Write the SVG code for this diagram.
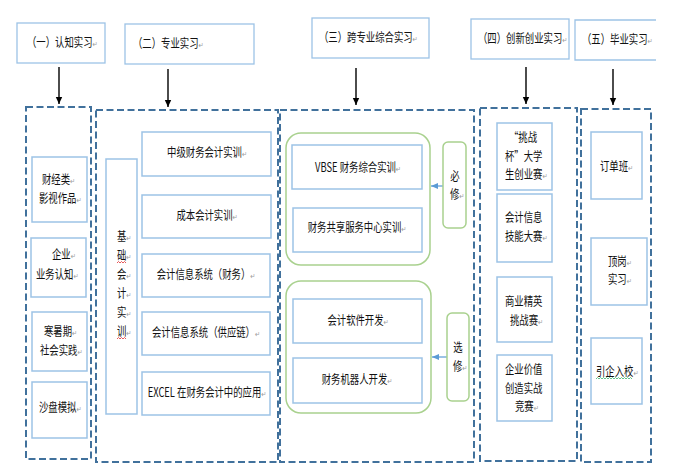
<svg xmlns="http://www.w3.org/2000/svg" width="685" height="475" viewBox="0 0 685 475">
<defs>
<marker id="ah" markerWidth="8" markerHeight="8" refX="7" refY="4" orient="auto" markerUnits="userSpaceOnUse"><path d="M0,0.8 L7,4 L0,7.2 Z" fill="#000"/></marker>
<marker id="ahb" markerWidth="8" markerHeight="8" refX="7" refY="4" orient="auto" markerUnits="userSpaceOnUse"><path d="M0,1 L7,4 L0,7 Z" fill="#5B9BD5"/></marker>
</defs>
<style>
.hd{fill:#fff;stroke:#9DC3E6;stroke-width:1.3}
.bx{fill:#fff;stroke:#9DC3E6;stroke-width:1.5}
.dc{fill:none;stroke:#41719C;stroke-width:2;stroke-dasharray:7 3.5}
.gr{fill:none;stroke:#A9D18E;stroke-width:1.5}
.ar{stroke:#000;stroke-width:1.4;fill:none}
.arb{stroke:#5B9BD5;stroke-width:1.2;fill:none}
text{font-family:"Noto Sans CJK SC","Liberation Sans",sans-serif;font-size:12.5px;fill:#111}
.m{text-anchor:middle}
.p{font-family:"DejaVu Sans",sans-serif;font-size:8px;fill:#999}
.sq{fill:none;stroke-width:0.8}
</style>

<g id="containers">
<rect class="dc" x="26" y="107" width="65" height="352"/>
<rect class="dc" x="96" y="110" width="182" height="352"/>
<rect class="dc" x="280" y="110" width="194" height="352"/>
<rect class="dc" x="480" y="108" width="97" height="353"/>
<rect class="dc" x="581" y="109" width="70" height="353"/>
</g>

<g id="connectors">
<line class="ar" x1="59" y1="67" x2="59" y2="104" marker-end="url(#ah)"/>
<line class="ar" x1="168" y1="69" x2="168" y2="107" marker-end="url(#ah)"/>
<line class="ar" x1="356" y1="68" x2="356" y2="105" marker-end="url(#ah)"/>
<line class="ar" x1="526" y1="67" x2="526" y2="104" marker-end="url(#ah)"/>
<line class="ar" x1="613" y1="69" x2="613" y2="105" marker-end="url(#ah)"/>
<line class="arb" x1="443" y1="186" x2="431" y2="186" marker-end="url(#ahb)"/>
<line class="arb" x1="447" y1="357" x2="432" y2="357" marker-end="url(#ahb)"/>
</g>

<g id="h1"><rect class="hd" x="17" y="23" width="88" height="40"/><text transform="translate(27,47) scale(0.75,1)">（一）认知实习<tspan class="p">↵</tspan></text></g>
<g id="h2"><rect class="hd" x="125" y="24" width="129" height="40"/><text transform="translate(133,48) scale(0.75,1)">（二）专业实习<tspan class="p">↵</tspan></text></g>
<g id="h3"><rect class="hd" x="312" y="18" width="117" height="40"/><text transform="translate(319,42) scale(0.75,1)">（三）跨专业综合实习<tspan class="p">↵</tspan></text></g>
<g id="h4"><rect class="hd" x="471" y="19" width="98" height="40"/><text transform="translate(478,43) scale(0.75,1)">（四）创新创业实习<tspan class="p">↵</tspan></text></g>
<g id="h5"><path class="hd" d="M656,20 H575 V60 H656"/><text transform="translate(582,44) scale(0.75,1)">（五）毕业实习<tspan class="p">↵</tspan></text></g>

<g id="c1a"><rect class="bx" x="32" y="157" width="55" height="65"/><text transform="translate(42,184) scale(0.75,1)">财经类<tspan class="p">↵</tspan></text><text transform="translate(39,203) scale(0.75,1)">影视作品<tspan class="p">↵</tspan></text></g>
<g id="c1b"><rect class="bx" x="31" y="238" width="55" height="59"/><text transform="translate(52,259) scale(0.75,1)">企业<tspan class="p">↵</tspan></text><text transform="translate(36,279) scale(0.75,1)">业务认知<tspan class="p">↵</tspan></text></g>
<g id="c1c"><rect class="bx" x="32" y="312" width="55" height="59"/><text transform="translate(44,336) scale(0.75,1)">寒暑期<tspan class="p">↵</tspan></text><text transform="translate(40,355) scale(0.75,1)">社会实践<tspan class="p">↵</tspan></text></g>
<g id="c1d"><rect class="bx" x="32" y="382" width="55" height="56"/><text transform="translate(39,412) scale(0.75,1)">沙盘模拟<tspan class="p">↵</tspan></text></g>

<g id="c2base"><rect class="bx" x="106" y="159" width="31" height="255"/>
<text transform="translate(117,241) scale(0.75,1)">基<tspan class="p">↵</tspan></text>
<text transform="translate(117,260) scale(0.75,1)">础<tspan class="p">↵</tspan></text>
<text transform="translate(117,279) scale(0.75,1)">会<tspan class="p">↵</tspan></text>
<text transform="translate(117,298) scale(0.75,1)">计<tspan class="p">↵</tspan></text>
<text transform="translate(117,317) scale(0.75,1)">实<tspan class="p">↵</tspan></text>
<text transform="translate(117,336) scale(0.75,1)">训<tspan class="p">↵</tspan></text>
<path class="sq" stroke="#E03030" d="M117,263 l1.5,-1.5 l1.5,1.5 l1.5,-1.5 l1.5,1.5 l1.5,-1.5 l1.5,1.5"/>
<path class="sq" stroke="#E03030" d="M117,339 l1.5,-1.5 l1.5,1.5 l1.5,-1.5 l1.5,1.5 l1.5,-1.5 l1.5,1.5"/>
</g>
<g id="c2a"><rect class="bx" x="142" y="132" width="129" height="44"/><text class="m" transform="translate(207,157) scale(0.75,1)">中级财务会计实训<tspan class="p">↵</tspan></text></g>
<g id="c2b"><rect class="bx" x="142" y="195" width="129" height="43"/><text class="m" transform="translate(207,220) scale(0.75,1)">成本会计实训<tspan class="p">↵</tspan></text></g>
<g id="c2c"><rect class="bx" x="142" y="254" width="128" height="43"/><text class="m" transform="translate(206,279) scale(0.75,1)">会计信息系统（财务）<tspan class="p">↵</tspan></text></g>
<g id="c2d"><rect class="bx" x="142" y="312" width="128" height="43"/><text class="m" transform="translate(206,337) scale(0.75,1)">会计信息系统（供应链）<tspan class="p">↵</tspan></text></g>
<g id="c2e"><rect class="bx" x="142" y="372" width="128" height="43"/><text class="m" transform="translate(207,397) scale(0.75,1)">EXCEL 在财务会计中的应用<tspan class="p">↵</tspan></text></g>

<g id="g3a"><rect class="gr" x="286" y="133" width="144" height="132" rx="15"/></g>
<g id="c3a"><rect class="bx" x="292" y="145" width="130" height="44"/><text class="m" transform="translate(358,172) scale(0.75,1)">VBSE 财务综合实训<tspan class="p">↵</tspan></text></g>
<g id="c3b"><rect class="bx" x="293" y="208" width="129" height="44"/><text class="m" transform="translate(357,232) scale(0.75,1)">财务共享服务中心实训<tspan class="p">↵</tspan></text></g>
<g id="c3req"><rect class="gr" x="443" y="142" width="23" height="86" rx="5"/><text class="m" transform="translate(455,181) scale(0.75,1)">必</text><text transform="translate(450,199) scale(0.75,1)">修<tspan class="p">↵</tspan></text></g>
<g id="g3b"><rect class="gr" x="286" y="281" width="145" height="132" rx="15"/></g>
<g id="c3c"><rect class="bx" x="293" y="299" width="129" height="44"/><text class="m" transform="translate(358,325) scale(0.75,1)">会计软件开发<tspan class="p">↵</tspan></text></g>
<g id="c3d"><rect class="bx" x="293" y="358" width="129" height="45"/><text class="m" transform="translate(357,384) scale(0.75,1)">财务机器人开发<tspan class="p">↵</tspan></text></g>
<g id="c3opt"><rect class="gr" x="447" y="313" width="22" height="88" rx="5"/><text class="m" transform="translate(458,352) scale(0.75,1)">选</text><text transform="translate(453,371) scale(0.75,1)">修<tspan class="p">↵</tspan></text></g>

<g id="c4a"><rect class="bx" x="497" y="123" width="55" height="67"/><text transform="translate(509,142) scale(0.75,1)">“挑战</text><text transform="translate(505,161) scale(0.75,1)">杯”大学</text><text transform="translate(505,179) scale(0.75,1)">生创业赛<tspan class="p">↵</tspan></text></g>
<g id="c4b"><rect class="bx" x="497" y="194" width="55" height="68"/><text transform="translate(505,222) scale(0.75,1)">会计信息</text><text transform="translate(505,241) scale(0.75,1)">技能大赛<tspan class="p">↵</tspan></text></g>
<g id="c4c"><rect class="bx" x="497" y="277" width="55" height="65"/><text transform="translate(505,306) scale(0.75,1)">商业精英</text><text transform="translate(510,325) scale(0.75,1)">挑战赛<tspan class="p">↵</tspan></text></g>
<g id="c4d"><rect class="bx" x="497" y="355" width="55" height="66"/><text transform="translate(505,374) scale(0.75,1)">企业价值</text><text transform="translate(505,393) scale(0.75,1)">创造实战</text><text transform="translate(515,411) scale(0.75,1)">竞赛<tspan class="p">↵</tspan></text></g>

<g id="c5a"><rect class="bx" x="591" y="132" width="51" height="67"/><text transform="translate(600,171) scale(0.75,1)">订单班<tspan class="p">↵</tspan></text></g>
<g id="c5b"><rect class="bx" x="591" y="238" width="56" height="67"/><text transform="translate(608,266) scale(0.75,1)">顶岗<tspan class="p">↵</tspan></text><text transform="translate(608,284) scale(0.75,1)">实习<tspan class="p">↵</tspan></text></g>
<g id="c5c"><rect class="bx" x="591" y="338" width="51" height="66"/><text transform="translate(596,376) scale(0.75,1)">引企入校<tspan class="p">↵</tspan></text>
<path class="sq" stroke="#3CB371" d="M596,379 l1.5,-1.5 l1.5,1.5 l1.5,-1.5 l1.5,1.5 l1.5,-1.5 l1.5,1.5 l1.5,-1.5 l1.5,1.5 l1.5,-1.5 l1.5,1.5 l1.5,-1.5 l1.5,1.5 l1.5,-1.5 l1.5,1.5 l1.5,-1.5 l1.5,1.5 l1.5,-1.5 l1.5,1.5 l1.5,-1.5 l1.5,1.5 l1.5,-1.5 l1.5,1.5 l1.5,-1.5 l1.5,1.5"/></g>
</svg>
